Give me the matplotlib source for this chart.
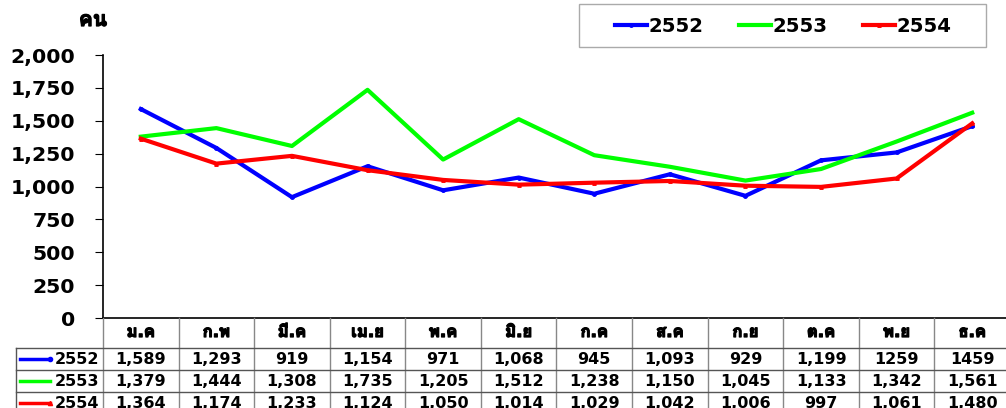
import matplotlib
matplotlib.use("Agg")
import matplotlib.pyplot as plt
import matplotlib.patheffects as pe
from matplotlib.patches import Rectangle
from matplotlib import font_manager, ft2font
from matplotlib.ticker import FuncFormatter

months = ["ม.ค", "ก.พ", "มี.ค", "เม.ย", "พ.ค", "มิ.ย", "ก.ค", "ส.ค", "ก.ย", "ต.ค", "พ.ย", "ธ.ค"]
years = ["2552", "2553", "2554"]
v2552 = [1589, 1293, 919, 1154, 971, 1068, 945, 1093, 929, 1199, 1259, 1459]
v2553 = [1379, 1444, 1308, 1735, 1205, 1512, 1238, 1150, 1045, 1133, 1342, 1561]
v2554 = [1364, 1174, 1233, 1124, 1050, 1014, 1029, 1042, 1006, 997, 1061, 1480]
# the table prints the last two 2552 values without comma
table_2552 = ["1,589", "1,293", "919", "1,154", "971", "1,068", "945", "1,093", "929", "1,199", "1259", "1459"]
unit_label = "คน"


def thai_font():
    for f in font_manager.fontManager.ttflist:
        try:
            if 0x0E04 in ft2font.FT2Font(f.fname).get_charmap():
                return f.name
        except Exception:
            pass
    return None


tf = thai_font()
fams = ["DejaVu Sans"] + ([tf] if tf else [])
plt.rcParams["font.family"] = fams
plt.rcParams["font.weight"] = "bold"
# fake bold for the thai glyphs
thai_bold = [pe.withStroke(linewidth=0.9, foreground="black")]

W, H = 1006, 408
fig = plt.figure(figsize=(W / 100, H / 100), dpi=100)

left_px, right_px, top_px, bot_px = 103, 1010, 55, 318
ax = fig.add_axes([left_px / W, 1 - bot_px / H, (right_px - left_px) / W, (bot_px - top_px) / H])

series = [
    (v2552, "#0000ff", "o"),
    (v2553, "#00ff00", None),
    (v2554, "#ff0000", "^"),
]
x = list(range(len(months)))
for (vals, col, mk), yr in zip(series, years):
    ax.plot(x, vals, color=col, linewidth=3, marker=mk, markersize=2.5, label=yr, clip_on=False)

ax.set_xlim(-0.5, len(months) - 0.5)
ax.set_ylim(0, 2000)
ax.set_yticks(range(0, 2001, 250))
ax.yaxis.set_major_formatter(FuncFormatter(lambda v, p: f"{int(v):,}"))
ax.tick_params(axis="y", labelsize=14.7, length=6, width=0.8, pad=14, colors="black")
ax.set_xticks([])
for s in ["top", "right"]:
    ax.spines[s].set_visible(False)
ax.spines["left"].set_linewidth(1.2)
ax.spines["bottom"].set_linewidth(1.2)
for lbl in ax.get_yticklabels():
    lbl.set_fontweight("bold")

fig.text(93 / W, 1 - 20 / H, unit_label, fontsize=15, fontweight="bold", ha="center", va="center",
         path_effects=thai_bold)

# overlay in pixel coordinates for legend frame and table
ov = fig.add_axes([0, 0, 1, 1])
ov.set_xlim(0, W)
ov.set_ylim(H, 0)
ov.axis("off")

ov.add_patch(Rectangle((579, 4), 407, 43, fill=False, edgecolor="#aaaaaa", linewidth=1.0))
leg = fig.legend(loc="center left", bbox_to_anchor=(615 / W, 1 - 26 / H), ncol=3, frameon=False,
                 handlelength=1.6, handletextpad=0.1, columnspacing=1.8, borderpad=0, borderaxespad=0,
                 prop={"weight": "bold", "size": 14.2})
for h in leg.legend_handles:
    h.set_markersize(2.5)

col_w = (right_px - left_px) / len(months)
row_edges = [318, 348, 370, 392, 414]
label_left = 16

# header row verticals
for i in range(len(months) + 1):
    xx = left_px + i * col_w
    ov.plot([xx, xx], [row_edges[0], row_edges[-1]], color="#888888", linewidth=1.0)
ov.plot([label_left, label_left], [row_edges[1], row_edges[-1]], color="#555555", linewidth=1.0)
for yy in row_edges[1:4]:
    ov.plot([label_left, W], [yy, yy], color="#555555", linewidth=1.0)

for i, m in enumerate(months):
    ov.text(left_px + (i + 0.5) * col_w, 332, m, ha="center", va="center", fontsize=12,
            fontweight="bold", path_effects=thai_bold)

rows = [
    table_2552,
    [f"{v:,}" for v in v2553],
    [f"{v:,}" for v in v2554],
]
for r, ((vals, col, mk), yr, texts) in enumerate(zip(series, years, rows)):
    yc = (row_edges[r + 1] + row_edges[r + 2]) / 2
    ov.plot([20, 50], [yc, yc], color=col, linewidth=2.5, marker=mk, markersize=3, markevery=[1] if mk else None)
    ov.text(99, yc, yr, ha="right", va="center", fontsize=11.5, fontweight="bold")
    for i, t in enumerate(texts):
        ov.text(left_px + (i + 0.5) * col_w, yc, t, ha="center", va="center", fontsize=11.5, fontweight="bold")

fig.savefig("out.png", dpi=100)
